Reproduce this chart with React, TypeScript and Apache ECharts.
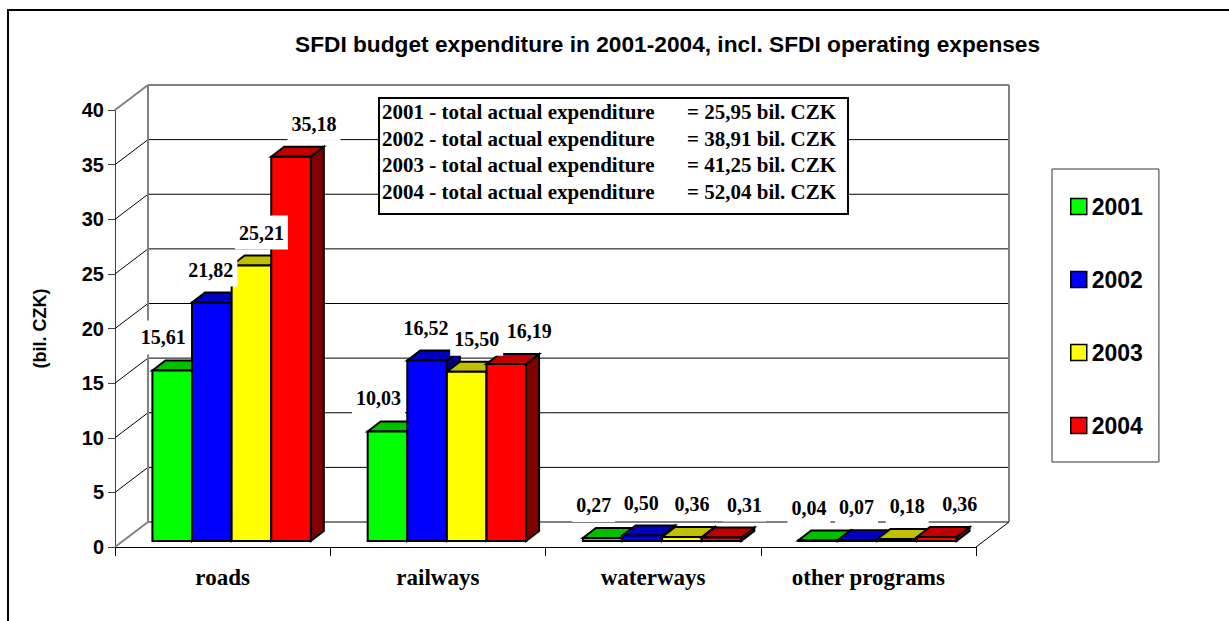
import React, { useEffect, useRef } from "react";
import * as echarts from "echarts";

// ---- data ----
const CATEGORIES = ["roads", "railways", "waterways", "other programs"];
const YEARS = ["2001", "2002", "2003", "2004"];
const V2001 = [15.61, 10.03, 0.27, 0.04];
const V2002 = [21.82, 16.52, 0.5, 0.07];
const V2003 = [25.21, 15.5, 0.36, 0.18];
const V2004 = [35.18, 16.19, 0.31, 0.36];
const SERIES_VALUES = [V2001, V2002, V2003, V2004];
const TOTALS = [25.95, 38.91, 41.25, 52.04];
const Y_MIN = 0;
const Y_MAX = 40;
const Y_STEP = 5;

// ---- styles ----
const FRONT = ["#00ff00", "#0000ff", "#ffff00", "#ff0000"];
const TOPC = ["#00c000", "#0000c0", "#c0c000", "#c00000"];
const SIDE = ["#008000", "#000080", "#808000", "#800000"];
const SANS = '"Liberation Sans", Arial, sans-serif';
const SERIF = '"Liberation Serif", "Times New Roman", serif';
const WALL_DX = 33;
const WALL_DY = -25;
const BAR_FX = 9;
const BAR_FY = -6;
const BAR_DX = 13;
const BAR_DY = -10;
const BAR_RATIO = 0.184;
const LABEL_DX = [-9, -1, 10, 23];
const LABEL_DY = -33;

const fmt = (v: number) => v.toFixed(2).replace(".", ",");

function barGeom(api: any, s: number) {
  const c = api.value(0);
  const v = api.value(1);
  const base = api.coord([c, 0]);
  const top = api.coord([c, v]);
  const band = api.size([1, 0])[0];
  const bw = band * BAR_RATIO;
  const x0 = base[0] - (bw * 4) / 2 + s * bw + BAR_FX;
  const yb = base[1] + BAR_FY;
  const yt = top[1] + BAR_FY;
  return { x0, yb, yt, bw };
}

function buildOption() {
  const barSeries = SERIES_VALUES.map((vals, s) => ({
    type: "custom",
    name: YEARS[s],
    data: vals.map((v, c) => [c, v]),
    itemStyle: { color: FRONT[s] },
    clip: false,
    z: 3,
    renderItem: (params: any, api: any) => {
      const { x0, yb, yt, bw } = barGeom(api, s);
      const stroke = { stroke: "#000", lineWidth: 2, lineJoin: "miter" };
      return {
        type: "group",
        children: [
          {
            type: "polygon",
            shape: {
              points: [
                [x0 + bw, yt],
                [x0 + bw + BAR_DX, yt + BAR_DY],
                [x0 + bw + BAR_DX, yb + BAR_DY],
                [x0 + bw, yb],
              ],
            },
            style: { fill: SIDE[s], ...stroke },
          },
          {
            type: "polygon",
            shape: {
              points: [
                [x0, yt],
                [x0 + bw, yt],
                [x0 + bw + BAR_DX, yt + BAR_DY],
                [x0 + BAR_DX, yt + BAR_DY],
              ],
            },
            style: { fill: TOPC[s], ...stroke },
          },
          {
            type: "rect",
            shape: { x: x0, y: yt, width: bw, height: yb - yt },
            style: { fill: FRONT[s], ...stroke },
          },
        ],
      };
    },
  }));

  const labelData: number[][] = [];
  SERIES_VALUES.forEach((vals, s) => vals.forEach((v, c) => labelData.push([c, v, s])));

  const labelSeries = {
    type: "custom",
    name: "labels",
    data: labelData,
    clip: false,
    z: 10,
    silent: true,
    renderItem: (params: any, api: any) => {
      const s = api.value(2);
      const { x0, yt, bw } = barGeom(api, s);
      return {
        type: "text",
        x: x0 + bw / 2 + LABEL_DX[s],
        y: yt + LABEL_DY,
        style: {
          text: fmt(api.value(1)),
          fill: "#000",
          font: `bold 20px ${SERIF}`,
          align: "center",
          verticalAlign: "middle",
          backgroundColor: "#fff",
          padding: [7, 4],
        },
      };
    },
  };

  const frameSeries = {
    type: "custom",
    name: "frame",
    data: [[0, 0]],
    clip: false,
    z: 1,
    silent: true,
    renderItem: (params: any, api: any) => {
      const cs = params.coordSys;
      const L = cs.x;
      const R = cs.x + cs.width;
      const children: any[] = [];
      const gray = { stroke: "#808080", lineWidth: 2 };
      const black = { stroke: "#000", lineWidth: 1 };
      for (let v = Y_MIN; v <= Y_MAX; v += Y_STEP) {
        const y = api.coord([0, v])[1];
        const edge = v === Y_MIN || v === Y_MAX;
        children.push({
          type: "line",
          shape: { x1: L + WALL_DX, y1: y + WALL_DY, x2: R + WALL_DX, y2: y + WALL_DY },
          style: edge ? gray : black,
        });
        children.push({
          type: "line",
          shape: { x1: L, y1: y, x2: L + WALL_DX, y2: y + WALL_DY },
          style: edge ? gray : black,
        });
      }
      const yTop = api.coord([0, Y_MAX])[1];
      const y0 = api.coord([0, Y_MIN])[1];
      children.push({
        type: "line",
        shape: { x1: L + WALL_DX, y1: yTop + WALL_DY, x2: L + WALL_DX, y2: y0 + WALL_DY },
        style: gray,
      });
      children.push({
        type: "line",
        shape: { x1: R + WALL_DX, y1: yTop + WALL_DY, x2: R + WALL_DX, y2: y0 + WALL_DY },
        style: gray,
      });
      children.push({
        type: "line",
        shape: { x1: R, y1: y0, x2: R + WALL_DX, y2: y0 + WALL_DY },
        style: black,
      });
      return { type: "group", children };
    },
  };

  const boxX = 379;
  const boxY = 98;
  const lineH = 26.7;
  const graphic: any[] = [
    {
      type: "rect",
      shape: { x: 8, y: 10, width: 1400, height: 800 },
      style: { fill: "none", stroke: "#000", lineWidth: 2 },
      silent: true,
    },
    {
      type: "rect",
      shape: { x: boxX, y: boxY, width: 469, height: 116 },
      style: { fill: "#fff", stroke: "#000", lineWidth: 2 },
      z: 50,
    },
  ];
  YEARS.forEach((yr, i) => {
    graphic.push({
      type: "text",
      x: boxX + 3,
      y: boxY + 14 + i * lineH,
      z: 51,
      style: {
        text: `${yr} - total actual expenditure`,
        font: `bold 21px ${SERIF}`,
        fill: "#000",
        verticalAlign: "middle",
      },
    });
    graphic.push({
      type: "text",
      x: boxX + 308,
      y: boxY + 14 + i * lineH,
      z: 51,
      style: {
        text: `= ${fmt(TOTALS[i])} bil. CZK`,
        font: `bold 21px ${SERIF}`,
        fill: "#000",
        verticalAlign: "middle",
      },
    });
  });

  return {
    animation: false,
    backgroundColor: "#fff",
    title: {
      text: "SFDI budget expenditure in 2001-2004, incl. SFDI operating expenses",
      left: 295,
      top: 32,
      padding: 0,
      textStyle: { fontFamily: SANS, fontWeight: "bold", fontSize: 22.7, color: "#000" },
    },
    legend: {
      orient: "vertical",
      left: 1052,
      top: 169,
      padding: [26, 16, 25, 18],
      itemGap: 50,
      itemWidth: 16,
      itemHeight: 16,
      icon: "rect",
      backgroundColor: "#fff",
      borderColor: "#333",
      borderWidth: 1,
      data: YEARS,
      itemStyle: { borderColor: "#000", borderWidth: 1.5 },
      textStyle: { fontFamily: SANS, fontWeight: "bold", fontSize: 23, color: "#000" },
    },
    grid: { left: 115, top: 110, width: 861, height: 437, containLabel: false },
    xAxis: {
      type: "category",
      data: CATEGORIES,
      boundaryGap: true,
      axisLine: { show: true, lineStyle: { color: "#000", width: 1 } },
      axisTick: { show: true, length: 9, lineStyle: { color: "#000" } },
      axisLabel: {
        margin: 19,
        fontFamily: SERIF,
        fontWeight: "bold",
        fontSize: 23,
        color: "#000",
      },
      splitLine: { show: false },
    },
    yAxis: {
      type: "value",
      min: Y_MIN,
      max: Y_MAX,
      interval: Y_STEP,
      name: "(bil. CZK)",
      nameLocation: "middle",
      nameGap: 66,
      nameRotate: 90,
      nameTextStyle: { fontFamily: SANS, fontWeight: "bold", fontSize: 18, color: "#000" },
      axisLine: { show: true, lineStyle: { color: "#404040", width: 1 } },
      axisTick: { show: true, length: 7, lineStyle: { color: "#404040" } },
      axisLabel: {
        margin: 11,
        fontFamily: SANS,
        fontWeight: "bold",
        fontSize: 20,
        color: "#000",
      },
      splitLine: { show: false },
    },
    graphic,
    series: [frameSeries, ...barSeries, labelSeries],
  };
}

export default function App() {
  const ref = useRef<HTMLDivElement>(null);
  useEffect(() => {
    const chart = echarts.init(ref.current!, null, { renderer: "svg" });
    chart.setOption(buildOption() as any);
    return () => chart.dispose();
  }, []);
  return (
    <div
      ref={ref}
      style={{ position: "fixed", left: 0, top: 0, width: 1229, height: 621, background: "#fff" }}
    />
  );
}
